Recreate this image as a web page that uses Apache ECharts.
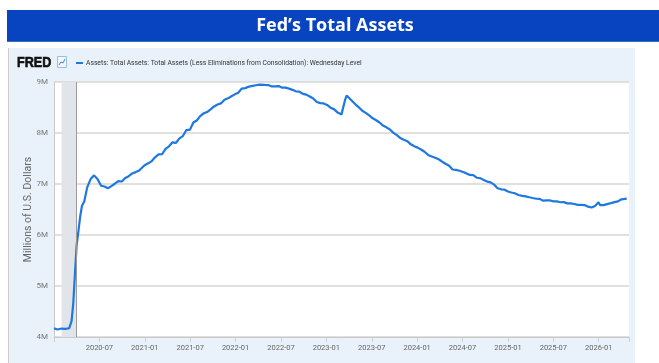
<!DOCTYPE html>
<html>
<head>
<meta charset="utf-8">
<script src="https://cdn.jsdelivr.net/npm/echarts@6/dist/echarts.min.js"></script>
<style>
  html, body { margin: 0; padding: 0; background: #ffffff; }
  #chart { width: 659px; height: 363px; }
</style>
</head>
<body>
<div id="chart"></div>
<script>
// Weekly-level Fed balance sheet readings (millions of U.S. dollars)
const dates = [
  '2020-01-01','2020-01-15','2020-02-01','2020-02-15','2020-03-01','2020-03-11','2020-03-18','2020-03-25',
  '2020-04-01','2020-04-08','2020-04-15','2020-04-22','2020-05-01','2020-05-13','2020-05-27','2020-06-10',
  '2020-06-24','2020-07-08','2020-07-22','2020-08-05','2020-08-19','2020-09-02','2020-09-16','2020-09-30',
  '2020-10-14','2020-10-28','2020-11-11','2020-11-25','2020-12-09','2020-12-30',
  '2021-01-13','2021-01-27','2021-02-10','2021-02-24','2021-03-10','2021-03-24','2021-04-07','2021-04-21',
  '2021-05-05','2021-05-19','2021-06-02','2021-06-16','2021-06-30','2021-07-14','2021-07-28','2021-08-11',
  '2021-08-25','2021-09-08','2021-09-22','2021-10-06','2021-10-20','2021-11-03','2021-11-17','2021-12-01',
  '2021-12-15','2021-12-29',
  '2022-01-12','2022-01-26','2022-02-09','2022-02-23','2022-03-09','2022-03-23','2022-04-06','2022-04-13',
  '2022-04-27','2022-05-11','2022-05-25','2022-06-08','2022-06-22','2022-07-06','2022-07-20','2022-08-03',
  '2022-08-17','2022-08-31','2022-09-14','2022-09-28','2022-10-12','2022-10-26','2022-11-09','2022-11-23',
  '2022-12-07','2022-12-21',
  '2023-01-04','2023-01-18','2023-02-01','2023-02-15','2023-03-01','2023-03-08','2023-03-15','2023-03-22',
  '2023-03-29','2023-04-12','2023-04-26','2023-05-10','2023-05-24','2023-06-07','2023-06-21','2023-07-05',
  '2023-07-19','2023-08-02','2023-08-16','2023-08-30','2023-09-13','2023-09-27','2023-10-11','2023-10-25',
  '2023-11-08','2023-11-22','2023-12-06','2023-12-20',
  '2024-01-03','2024-01-17','2024-01-31','2024-02-14','2024-02-28','2024-03-13','2024-03-27','2024-04-10',
  '2024-04-24','2024-05-08','2024-05-22','2024-06-05','2024-06-19','2024-07-03','2024-07-17','2024-07-31',
  '2024-08-14','2024-08-28','2024-09-11','2024-09-25','2024-10-09','2024-10-23','2024-11-06','2024-11-20',
  '2024-12-04','2024-12-18',
  '2025-01-01','2025-01-15','2025-01-29','2025-02-12','2025-02-26','2025-03-12','2025-03-26','2025-04-09',
  '2025-04-23','2025-05-07','2025-05-21','2025-06-04','2025-06-18','2025-07-02','2025-07-16','2025-07-30',
  '2025-08-13','2025-08-27','2025-09-10','2025-09-24','2025-10-08','2025-10-22','2025-11-05','2025-11-19',
  '2025-12-03','2025-12-17','2025-12-31',
  '2026-01-07','2026-01-21','2026-02-04','2026-02-18','2026-03-04','2026-03-18','2026-04-01','2026-04-15',
  '2026-04-22'
];
const assets = [
  4173000,4148000,4166000,4159000,4171000,4312000,4666000,5254000,
  5816000,6083000,6368000,6573000,6656000,6934000,7097000,7169000,
  7093000,6966000,6951000,6918000,6958000,7005000,7057000,7049000,
  7117000,7153000,7207000,7233000,7264000,7362000,
  7401000,7438000,7518000,7579000,7583000,7689000,7739000,7817000,
  7808000,7895000,7940000,8058000,8065000,8205000,8245000,8330000,
  8385000,8410000,8465000,8520000,8560000,8580000,8650000,8680000,
  8720000,8758000,
  8788000,8870000,8880000,8910000,8924000,8937000,8950000,8965000,
  8943000,8940000,8913000,8915000,8920000,8888000,8889000,8870000,
  8846000,8817000,8810000,8768000,8752000,8716000,8676000,8608000,
  8585000,8580000,
  8551000,8497000,8468000,8400000,8365000,8340000,8639000,8734000,
  8706000,8632000,8562000,8503000,8436000,8394000,8344000,8288000,
  8250000,8206000,8145000,8111000,8069000,8003000,7957000,7900000,
  7869000,7840000,7778000,7740000,
  7713000,7677000,7632000,7570000,7539000,7514000,7485000,7437000,
  7397000,7358000,7284000,7276000,7260000,7234000,7208000,7178000,
  7175000,7123000,7115000,7080000,7047000,7031000,6988000,6918000,
  6896000,6889000,
  6853000,6834000,6818000,6785000,6766000,6757000,6740000,6725000,
  6711000,6708000,6673000,6680000,6677000,6660000,6658000,6642000,
  6645000,6620000,6620000,6608000,6590000,6590000,6587000,6555000,
  6539000,6569000,6640000,
  6585000,6585000,6606000,6625000,6645000,6660000,6700000,6710000,
  6712000
];
const tickLabels = ['2020-07','2021-01','2021-07','2022-01','2022-07','2023-01',
                    '2023-07','2024-01','2024-07','2025-01','2025-07','2026-01'];
const recession = ['2020-02-01', '2020-04-01'];
const seriesName = 'Assets: Total Assets: Total Assets (Less Eliminations from Consolidation): Wednesday Level';

// x position measured in months since January 2020
function monthPos(s) {
  const [y, m, d] = s.split('-').map(Number);
  const dim = new Date(y, m, 0).getDate();
  return (y - 2020) * 12 + (m - 1) + (d - 1) / dim;
}

const seriesData = dates.map((d, i) => [monthPos(d), assets[i]]);

const chart = echarts.init(document.getElementById('chart'), null, { renderer: 'canvas' });

const option = {
  animation: false,
  backgroundColor: '#ffffff',
  textStyle: { fontFamily: 'Roboto, "Open Sans", sans-serif' },
  graphic: [
    // header band
    { type: 'rect', z: -10, shape: { x: 7, y: 10, width: 652, height: 32 },
      style: { fill: '#0844c0' } },
    { type: 'rect', z: -10, shape: { x: 7, y: 41, width: 652, height: 1 },
      style: { fill: '#2f6fb4' } },
    { type: 'text', z: 10, x: 335, y: 26,
      style: { text: 'Fed’s Total Assets', fill: '#ffffff', font: 'bold 18px "Open Sans", sans-serif',
               align: 'center', verticalAlign: 'middle' } },
    // light panel behind the plot
    { type: 'rect', z: -10, shape: { x: 9, y: 48, width: 626, height: 315 },
      style: { fill: '#e9f1fa' } },
    { type: 'rect', z: -9, shape: { x: 8, y: 48, width: 1, height: 315 },
      style: { fill: '#c8ccd2' } },
    // FRED mark and small chart icon
    { type: 'text', z: 10, x: 17, y: 63, scaleX: 0.9, originX: 0, originY: 0,
      style: { text: 'FRED', fill: '#111111', font: 'bold 14px "Liberation Sans", Arial, sans-serif',
               align: 'left', verticalAlign: 'middle', stroke: '#111111', lineWidth: 0.6 } },
    { type: 'rect', z: 10, shape: { x: 57.5, y: 56.5, width: 9, height: 11 },
      style: { fill: '#f2f7fd', stroke: '#9dbde3', lineWidth: 1 } },
    { type: 'polyline', z: 11, shape: { points: [[59, 65], [61, 62], [63, 63], [65, 59]] },
      style: { stroke: '#3b86d8', lineWidth: 1, fill: null } },
    // legend entry
    { type: 'rect', z: 10, shape: { x: 76, y: 62, width: 7, height: 2 },
      style: { fill: '#1f78e0' } },
    { type: 'text', z: 10, x: 86, y: 63, scaleX: 0.9, originX: 0, originY: 0,
      style: { text: seriesName, fill: '#333333', font: '7.5px Roboto, sans-serif',
               align: 'left', verticalAlign: 'middle' } }
  ],
  grid: {
    left: 54, right: 30, top: 82, bottom: 26,
    show: true, backgroundColor: '#ffffff', borderWidth: 0
  },
  xAxis: {
    type: 'value', min: 0, max: 76, interval: 6,
    axisLine: { show: true, lineStyle: { color: '#c9c9c9', width: 1 } },
    axisTick: { show: true, length: 5, lineStyle: { color: '#cfcfcf' } },
    splitLine: { show: false },
    axisLabel: {
      color: '#666666', fontSize: 7.5, margin: 7,
      formatter: v => (v % 6 === 0 && v >= 6 && v <= 72) ? tickLabels[v / 6 - 1] : ''
    }
  },
  yAxis: {
    type: 'value', min: 4000000, max: 9000000, interval: 1000000,
    name: 'Millions of U.S. Dollars', nameLocation: 'middle', nameGap: 20,
    nameMoveOverlap: false,
    nameTextStyle: { color: '#666666', fontSize: 10.5 },
    axisLine: { show: true, lineStyle: { color: '#c9c9c9', width: 1 } },
    axisTick: { show: false },
    splitLine: { show: true, lineStyle: { color: '#d6d6d6', width: 1.5 } },
    axisLabel: {
      color: '#777777', fontSize: 8, margin: 6, padding: [0, 0, 8, 0],
      formatter: v => (v / 1000000) + 'M'
    }
  },
  series: [{
    name: seriesName,
    type: 'line',
    data: seriesData,
    showSymbol: false,
    lineStyle: { color: '#1f78e0', width: 2.2 },
    markArea: {
      silent: true,
      itemStyle: { color: '#e1e5ea' },
      data: [[{ xAxis: monthPos(recession[0]) }, { xAxis: monthPos(recession[1]) }]]
    },
    markLine: {
      silent: true, symbol: 'none', label: { show: false },
      lineStyle: { color: '#9a9a9a', width: 1, type: 'solid' },
      data: [{ xAxis: monthPos(recession[1]) }]
    }
  }]
};

chart.setOption(option);
</script>
</body>
</html>
